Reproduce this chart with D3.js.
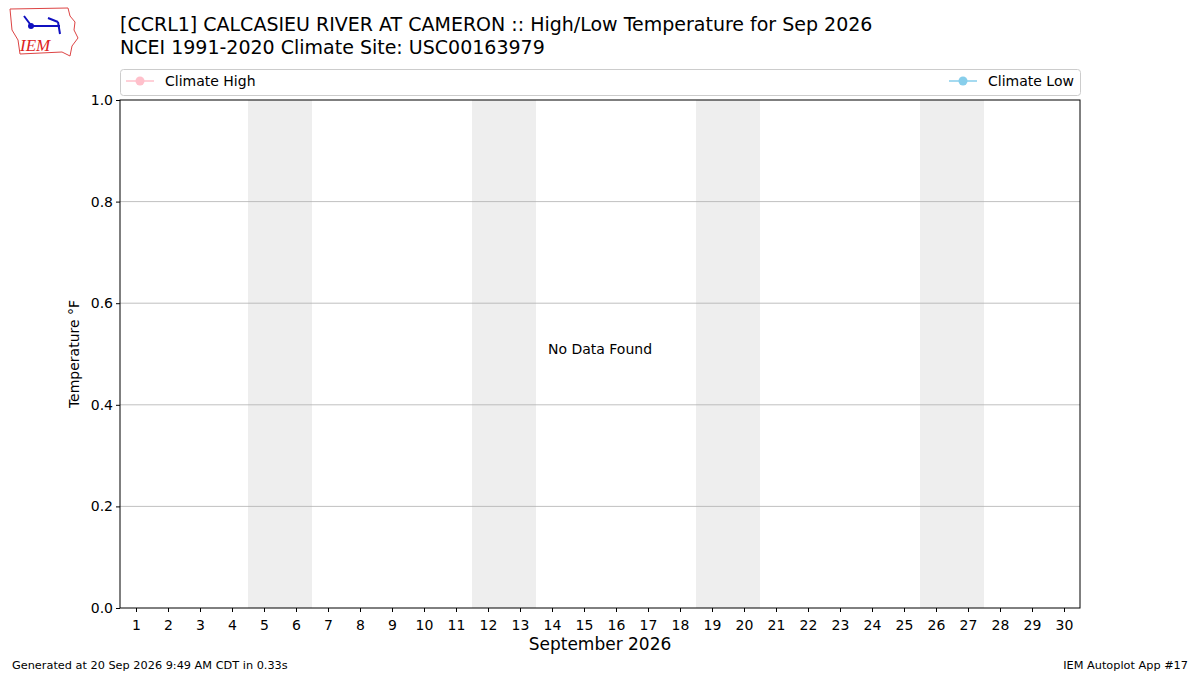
<!DOCTYPE html><html><head><meta charset="utf-8"><script src="https://cdn.jsdelivr.net/npm/d3@7"></script>
<style>body{margin:0;background:#fff}text{font-family:"DejaVu Sans",sans-serif}</style></head><body>
<svg id="c" width="1200" height="675"></svg>
<script>
const days = d3.range(1,31);
const weekends = [[5,6],[12,13],[19,20],[26,27]];
const yTicks = [0,0.2,0.4,0.6,0.8,1.0];
const climateHigh = [];
const climateLow = [];
const svg = d3.select("#c");
const L=120,R=1080,T=100,B=608;
const x = d3.scaleLinear().domain([0.5,30.5]).range([L,R]);
const y = d3.scaleLinear().domain([0,1]).range([B,T]);
const g0=svg.append("g");
g0.append("path").attr("d","M10,9 L68,8 L70,16 L75,22 L74,30 L78,38 L72,46 L70,56 L62,52 L20,54 L18,40 L12,30 Z").attr("fill","none").attr("stroke","#d44").attr("stroke-width",1);
g0.append("path").attr("d","M31,26 L60,26 M48,18 L58,22 M58,22 L60,34 M24,16 L30,24").attr("stroke","#1010c0").attr("stroke-width",2).attr("fill","none");
g0.append("circle").attr("cx",31).attr("cy",26).attr("r",3).attr("fill","#1010c0");
g0.append("text").attr("x",20).attr("y",51).attr("font-style","italic").attr("font-size",17).attr("fill","#d22").text("IEM").style("font-family","'Liberation Serif',serif");
svg.append("text").attr("x",120).attr("y",31).attr("font-size",19).text("[CCRL1] CALCASIEU RIVER AT CAMERON :: High/Low Temperature for Sep 2026");
svg.append("text").attr("x",120).attr("y",54).attr("font-size",19).text("NCEI 1991-2020 Climate Site: USC00163979");
svg.selectAll(".we").data(weekends).join("rect").attr("x",d=>x(d[0]-0.5)).attr("width",d=>x(d[1]+0.5)-x(d[0]-0.5)).attr("y",T).attr("height",B-T).attr("fill","#eeeeee");
svg.selectAll(".gl").data(yTicks.slice(1,-1)).join("line").attr("x1",L).attr("x2",R).attr("y1",d=>y(d)).attr("y2",d=>y(d)).attr("stroke","#b0b0b0").attr("stroke-width",0.8);
svg.append("rect").attr("x",L).attr("y",T).attr("width",R-L).attr("height",B-T).attr("fill","none").attr("stroke","#000").attr("stroke-width",1);
const xa=svg.append("g").attr("transform",`translate(0,${B})`).call(d3.axisBottom(x).tickValues(days).tickSize(4).tickSizeOuter(0));
const ya=svg.append("g").attr("transform",`translate(${L},0)`).call(d3.axisLeft(y).tickValues(yTicks).tickFormat(d3.format(".1f")).tickSize(4).tickSizeOuter(0));
[xa,ya].forEach(a=>{a.select(".domain").remove();a.selectAll("text").attr("font-size",14).attr("fill","#000").style("font-family","DejaVu Sans");});
xa.selectAll("text").attr("dy","1.05em");
svg.append("text").attr("x",600).attr("y",650).attr("text-anchor","middle").attr("font-size",17).text("September 2026");
svg.append("text").attr("transform","translate(79,354) rotate(-90)").attr("text-anchor","middle").attr("font-size",14).text("Temperature °F");
svg.append("text").attr("x",600).attr("y",354).attr("text-anchor","middle").attr("font-size",14).text("No Data Found");
svg.append("rect").attr("x",120.5).attr("y",69.5).attr("width",960).attr("height",26).attr("rx",3).attr("fill","#fff").attr("stroke","#ccc");
const leg=[{n:"Climate High",c:"pink",x:126},{n:"Climate Low",c:"skyblue",x:949}];
leg.forEach(l=>{svg.append("line").attr("x1",l.x).attr("x2",l.x+28).attr("y1",81).attr("y2",81).attr("stroke",l.c).attr("stroke-width",1.5);
svg.append("circle").attr("cx",l.x+14).attr("cy",81).attr("r",4.5).attr("fill",l.c);
svg.append("text").attr("x",l.x+39).attr("y",86).attr("font-size",14).text(l.n);});
svg.append("text").attr("x",12).attr("y",669).attr("font-size",11.3).text("Generated at 20 Sep 2026 9:49 AM CDT in 0.33s");
svg.append("text").attr("x",1188).attr("y",669).attr("text-anchor","end").attr("font-size",11.3).text("IEM Autoplot App #17");
</script></body></html>
